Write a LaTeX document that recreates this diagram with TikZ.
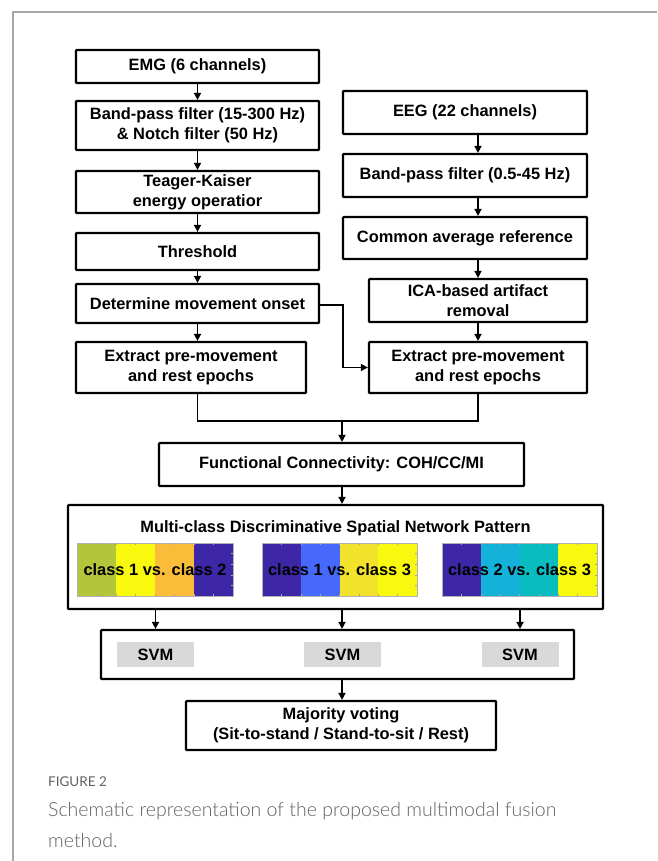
\documentclass[tikz,border=0pt]{standalone}
\usepackage{fontspec}
\setmainfont{Liberation Sans}
\IfFontExistsTF{Lato Light}{\newfontfamily\capfont{Lato Light}}{\newfontfamily\capfont{Lato}}
\newfontfamily\labfont{Lato}
\usetikzlibrary{arrows.meta}
\definecolor{framegray}{HTML}{A8A8A8}
\definecolor{capgray}{HTML}{626262}
\definecolor{svmgray}{HTML}{D9D9D9}
\definecolor{pOlive}{HTML}{B3C53A}
\definecolor{pYellow}{HTML}{F9F80F}
\definecolor{pYellowB}{HTML}{F2E22B}
\definecolor{pOrange}{HTML}{FBBC39}
\definecolor{pDark}{HTML}{3D27A6}
\definecolor{pBlue}{HTML}{4669FC}
\definecolor{pCyan}{HTML}{14B1D8}
\definecolor{pTeal}{HTML}{08BCC0}
\begin{document}
\begin{tikzpicture}[x=1pt,y=-1pt,
  box/.style={draw=black,line width=2.2pt,fill=white,align=center,inner sep=0pt,
    rounded corners=0.8pt,font=\fontsize{16.4}{20}\selectfont\bfseries},
  conn/.style={line width=1.6pt,-{Triangle[length=7pt,width=7pt]}},
  plainline/.style={line width=1.6pt},
  svmbox/.style={fill=svmgray,inner sep=0pt,minimum width=77pt,minimum height=25pt,
    font=\fontsize{16.4}{20}\selectfont\bfseries},
  hmtext/.style={inner sep=0pt,font=\fontsize{16.4}{20}\selectfont\bfseries},
  hmborder/.style={draw=gray!60,line width=0.5pt}
]
\useasboundingbox (0,0) rectangle (657,861);
\fill[white] (0,0) rectangle (657,861);
% card frame
\draw[framegray,line width=1.3pt] (13,861) -- (13,12) -- (657,12);

% EMG column
\node[box,minimum width=243pt,minimum height=33pt] (emg) at (197.5,66.5) {EMG (6 channels)};
\node[box,minimum width=243pt,minimum height=49pt] (bpf) at (197.5,125.5) {Band-pass filter (15-300 Hz)\\\& Notch filter (50 Hz)};
\node[box,minimum width=243pt,minimum height=42pt] (tk) at (197.5,192) {Teager-Kaiser\\energy operatior};
\node[box,minimum width=243pt,minimum height=37pt] (thr) at (197.5,251.5) {Threshold};
\node[box,minimum width=243pt,minimum height=39pt] (det) at (197.5,303.5) {Determine movement onset};
\node[box,minimum width=230pt,minimum height=51pt] (extl) at (191,367.5) {Extract pre-movement\\and rest epochs};

% EEG column
\node[box,minimum width=244pt,minimum height=43pt] (eeg) at (465,112.5) {EEG (22 channels)};
\node[box,minimum width=244pt,minimum height=43pt] (bpfe) at (465,175.5) {Band-pass filter (0.5-45 Hz)};
\node[box,minimum width=244pt,minimum height=42pt] (car) at (465,238) {Common average reference};
\node[box,minimum width=218pt,minimum height=43pt] (ica) at (478,300.5) {ICA-based artifact\\removal};
\node[box,minimum width=218pt,minimum height=51pt] (extr) at (478,367.5) {Extract pre-movement\\and rest epochs};

% fusion
\node[box,minimum width=365pt,minimum height=43pt] (fc) at (341.5,464.5) {Functional Connectivity: COH/CC/MI};
\node[box,minimum width=535pt,minimum height=104pt] (multi) at (335.5,557) {};
\node[hmtext] (mtitle) at (335.5,528) {Multi-class Discriminative Spatial Network Pattern};

% heatmaps
\foreach \c [count=\i from 0] in {pOlive,pYellow,pOrange,pDark}
  \fill[\c] (77+39*\i,543) rectangle ++(39,53);
\foreach \c [count=\i from 0] in {pDark,pBlue,pYellowB,pYellow}
  \fill[\c] (262+38.75*\i,543) rectangle ++(38.75,53);
\foreach \c [count=\i from 0] in {pDark,pCyan,pTeal,pYellow}
  \fill[\c] (442+38.75*\i,543) rectangle ++(38.75,53);
\foreach \a/\b in {77/233,262/417,442/597}{
  \draw[hmborder] (\a,543) rectangle (\b,596);
  \foreach \k in {1,...,7}{
    \draw[gray!70,line width=0.4pt] ({\a+(\b-\a)*\k/8},543) -- ++(0,2);
    \draw[gray!70,line width=0.4pt] ({\a+(\b-\a)*\k/8},596) -- ++(0,-2);
  }
  \foreach \k in {1,...,4}{
    \draw[gray!70,line width=0.4pt] (\b,{543+53*\k/5}) -- ++(-2,0);
  }
}
\node[hmtext] (hm1) at (155,569.5) {class 1 vs. class 2};
\node[hmtext] (hm2) at (339.5,569.5) {class 1 vs. class 3};
\node[hmtext] (hm3) at (519.5,569.5) {class 2 vs. class 3};

% SVM row
\node[box,minimum width=473pt,minimum height=49pt] (svmrow) at (337.5,654.5) {};
\node[svmbox] (svm1) at (155.5,654.5) {SVM};
\node[svmbox] (svm2) at (342.5,654.5) {SVM};
\node[svmbox] (svm3) at (520,654.5) {SVM};

\node[box,minimum width=310pt,minimum height=49pt] (maj) at (341,725.5) {Majority voting\\(Sit-to-stand / Stand-to-sit / Rest)};

% connectors EMG
\draw[conn] (emg.south) -- (bpf.north);
\draw[conn] (bpf.south) -- (tk.north);
\draw[conn] (tk.south) -- (thr.north);
\draw[conn] (thr.south) -- (det.north);
\draw[conn] (det.south) -- (det.south |- extl.north);
% connectors EEG
\draw[conn] (eeg.south -| ica.north) -- (bpfe.north -| ica.north);
\draw[conn] (bpfe.south -| ica.north) -- (car.north -| ica.north);
\draw[conn] (car.south -| ica.north) -- (ica.north);
\draw[conn] (ica.south) -- (extr.north);
% cross link
\coordinate (elb) at (343,305);
\draw[conn] (det.east |- elb) -- (elb) |- (extr.west);
% merge
\coordinate (mrg) at (342,421);
\draw[plainline] (det.south |- extl.south) |- (mrg) -| (extr.south);
\draw[conn] (mrg) -- (fc.north -| mrg);
\draw[conn] (fc.south -| mrg) -- (multi.north -| mrg);
% to SVMs
\draw[conn] (multi.south -| svm1) -- (svmrow.north -| svm1);
\draw[conn] (multi.south -| mrg) -- (svmrow.north -| mrg);
\draw[conn] (multi.south -| svm3) -- (svmrow.north -| svm3);
\draw[conn] (svmrow.south -| mrg) -- (maj.north -| mrg);

% caption
\node[anchor=west,inner sep=0pt,text=capgray,font=\labfont\fontsize{13.5}{16}\selectfont] (figlab) at (48,782) {FIGURE 2};
\node[anchor=west,inner sep=0pt,text=capgray,font=\capfont\fontsize{19.5}{23}\selectfont] (cap1) at (48,811) {Schematic representation of the proposed multimodal fusion};
\node[anchor=west,inner sep=0pt,text=capgray,font=\capfont\fontsize{19.5}{23}\selectfont] (cap2) at (48,840) {method.};
\end{tikzpicture}
\end{document}
